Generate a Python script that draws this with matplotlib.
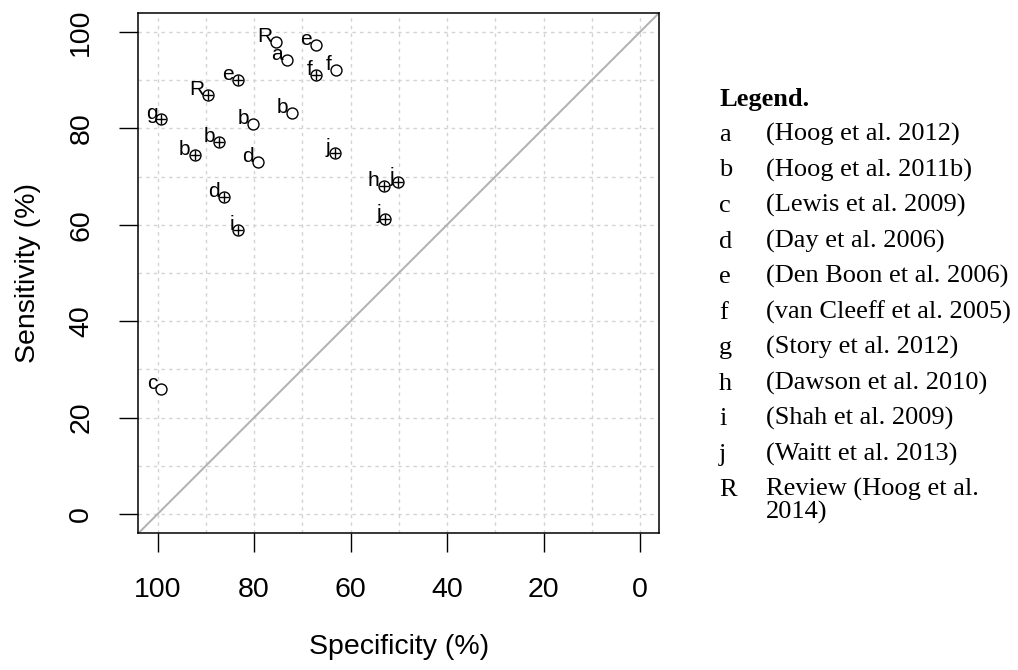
import numpy as np
import matplotlib
matplotlib.use('Agg')
import matplotlib.pyplot as plt

# Study points (specificity %, sensitivity %)
open_labels = ['R', 'e', 'a', 'f', 'b', 'b', 'd', 'c']
open_spec = [75.4, 67.1, 73.1, 63.1, 72.1, 80.2, 79.2, 99.2]
open_sens = [97.9, 97.2, 94.1, 92.2, 83.1, 80.9, 73.1, 26.0]

cross_labels = ['f', 'e', 'R', 'g', 'b', 'b', 'j', 'd', 'i', 'h', 'j', 'j']
cross_spec = [67.1, 83.3, 89.5, 99.2, 87.3, 92.3, 63.3, 86.2, 83.3, 53.1, 50.2, 52.8]
cross_sens = [91.0, 90.0, 86.9, 82.0, 77.2, 74.5, 74.9, 65.8, 58.9, 68.0, 68.9, 61.2]

ticks = [0, 20, 40, 60, 80, 100]

legend_keys = ['a', 'b', 'c', 'd', 'e', 'f', 'g', 'h', 'i', 'j', 'R']
legend_refs = ['(Hoog et al. 2012)', '(Hoog et al. 2011b)', '(Lewis et al. 2009)',
               '(Day et al. 2006)', '(Den Boon et al. 2006)', '(van Cleeff et al. 2005)',
               '(Story et al. 2012)', '(Dawson et al. 2010)', '(Shah et al. 2009)',
               '(Waitt et al. 2013)', 'Review (Hoog et al.\n2014)']

W, H = 1018, 670
sans = 'Liberation Sans'
serif = 'Liberation Serif'

fig = plt.figure(figsize=(W / 100, H / 100), dpi=100)
left, right, top, bottom = 138.3, 659.3, 12.7, 533.3
ax = fig.add_axes([left / W, 1 - bottom / H, (right - left) / W, (bottom - top) / H])
ax.set_xlim(104, -4)
ax.set_ylim(-4, 104)

# dotted grid every 10
ax.set_xticks(np.arange(0, 101, 10), minor=True)
ax.set_yticks(np.arange(0, 101, 10), minor=True)
ax.set_xticks(ticks)
ax.set_yticks(ticks)
ax.grid(which='both', color='#d3d3d3', linestyle=(0, (2.5, 3)), linewidth=1)
ax.set_axisbelow(True)
ax.tick_params(which='minor', length=0)
ax.tick_params(which='major', length=13.7, width=1.0, direction='out', pad=18,
               labelsize=20.5)
for lab in ax.get_xticklabels() + ax.get_yticklabels():
    lab.set_fontfamily(sans)
ax.tick_params(axis='y', labelrotation=90)
for lab in ax.get_yticklabels():
    lab.set_va('center')
for sp in ax.spines.values():
    sp.set_linewidth(1.1)

# reference diagonal
ax.axline((100, 0), (0, 100), color='#b0b0b0', lw=1.4, zorder=1)

ms = 7.9
ax.plot(open_spec, open_sens, 'o', ms=ms, mfc='white', mec='black', mew=1.0, zorder=3)
ax.plot(cross_spec, cross_sens, 'o', ms=ms, mfc='white', mec='black', mew=1.0, zorder=3)
ax.plot(cross_spec, cross_sens, '+', ms=ms, mec='black', mew=1.0, zorder=4)

for lab, x, y in zip(open_labels + cross_labels, open_spec + cross_spec, open_sens + cross_sens):
    ax.annotate(lab, (x, y), xytext=(-3, 0), textcoords='offset points',
                ha='right', va='baseline', fontsize=15, family=sans, zorder=5)

fig.text(28 / W, 1 - 273 / H, 'Sensitivity (%)', rotation=90, ha='center', va='center',
         fontsize=20.5, family=sans)
fig.text(398.8 / W, 1 - 647 / H, 'Specificity (%)', ha='center', va='center',
         fontsize=20.5, family=sans)

# legend block on the right
fig.text(719 / W, 1 - 106 / H, 'Legend.', fontsize=19, family=serif, weight='bold',
         ha='left', va='baseline')
base, step = 141, 35.5
for i, (k, ref) in enumerate(zip(legend_keys, legend_refs)):
    yb = base + i * step
    fig.text(719 / W, 1 - yb / H, k, fontsize=19, family=serif, ha='left', va='baseline')
    # wrapped entries sit on tighter lines
    for j, line in enumerate(ref.split('\n')):
        fig.text(766 / W, 1 - (yb + j * 23) / H, line, fontsize=19, family=serif,
                 ha='left', va='baseline')

fig.savefig('out.png', dpi=100)
